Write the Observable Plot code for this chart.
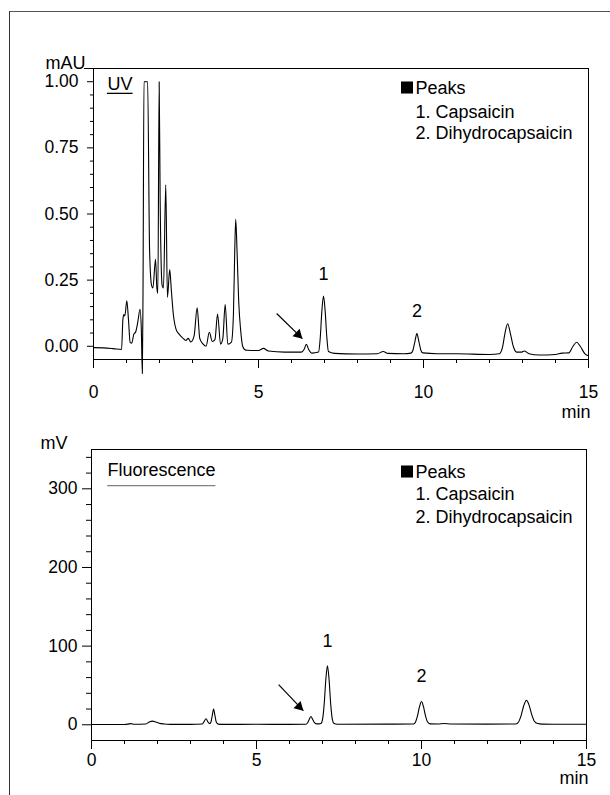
<!DOCTYPE html>
<html>
<head>
<meta charset="utf-8">
<script src="https://cdn.jsdelivr.net/npm/d3@7"></script>
<script src="https://cdn.jsdelivr.net/npm/@observablehq/plot@0.6"></script>
<style>
  html, body { margin: 0; padding: 0; background: #fff; }
  #wrap { position: relative; width: 610px; height: 795px; overflow: hidden; background: #fff; }
  #topPanel { position: absolute; left: 0; top: 0; }
  #botPanel { position: absolute; left: 0; top: 425px; }
  #border { position: absolute; left: 9px; top: 11px; width: 800px; height: 900px;
            border-left: 1px solid #333; border-top: 1px solid #555; pointer-events: none; }
</style>
</head>
<body>
<div id="wrap"><div id="topPanel"></div><div id="botPanel"></div><div id="border"></div></div>
<script>
// ---------- axis ticks ----------
const xMajor = [0, 5, 10, 15];
const xMinor = [1, 2, 3, 4, 6, 7, 8, 9, 11, 12, 13, 14];
const uvMajor = [0, 0.25, 0.5, 0.75, 1.0];
const uvMinor = [0.05, 0.1, 0.15, 0.2, 0.3, 0.35, 0.4, 0.45, 0.55, 0.6, 0.65, 0.7, 0.8, 0.85, 0.9, 0.95];
const uvTopTick = [1.05];
const flMajor = [0, 100, 200, 300];
const flMinor = [20, 40, 60, 80, 120, 140, 160, 180, 220, 240, 260, 280, 320, 340];

// ---------- texts ----------
const xUnit = "min";
const uvUnit = "mAU";
const flUnit = "mV";
const uvTitle = "UV";
const flTitle = "Fluorescence";
const legendTitle = "Peaks";
const legendItems = ["1. Capsaicin", "2. Dihydrocapsaicin"];

// ---------- UV trace (time, min / signal, mAU) ----------
const uvTime = [0.00, 0.30, 0.60, 0.85, 0.89, 0.92, 0.95, 1.01, 1.06, 1.11, 1.16, 1.22, 1.28, 1.34, 1.41, 1.45, 1.48,
  1.50, 1.53, 1.64, 1.70, 1.76, 1.80, 1.88, 1.92, 1.95, 1.99, 2.02, 2.08, 2.12, 2.19, 2.24, 2.31, 2.36, 2.42,
  2.50, 2.60, 2.70, 2.80, 2.87, 2.95, 3.05, 3.14, 3.22, 3.31, 3.41, 3.51, 3.60, 3.68, 3.76, 3.85, 3.92, 3.99,
  4.07, 4.18, 4.24, 4.28, 4.31, 4.35, 4.40, 4.46, 4.52, 4.58, 4.65, 5.00, 5.15, 5.30, 5.80, 6.30, 6.38, 6.45,
  6.52, 6.62, 6.82, 6.87, 6.92, 6.97, 7.02, 7.07, 7.12, 7.30, 8.00, 8.60, 8.78, 8.92, 9.40, 9.62, 9.68, 9.74,
  9.80, 9.86, 9.92, 9.98, 10.40, 11.00, 12.00, 12.30, 12.40, 12.47, 12.55, 12.63, 12.72, 12.82, 12.98, 13.05,
  13.20, 13.50, 14.00, 14.20, 14.40, 14.53, 14.64, 14.75, 14.90, 15.00];
const uvSignal = [-0.005, -0.006, -0.009, -0.012, 0.10, 0.12, 0.115, 0.172, 0.10, 0.015, 0.012, 0.045, 0.055, 0.09, 0.14, 0.06, -0.103,
  0.20, 1.00, 1.00, 0.36, 0.23, 0.22, 0.33, 0.22, 0.20, 1.00, 0.55, 0.23, 0.22, 0.61, 0.185, 0.29, 0.21, 0.12,
  0.065, 0.045, 0.032, 0.022, 0.03, 0.016, 0.04, 0.145, 0.03, 0.01, 0.0, 0.053, 0.018, 0.025, 0.122, 0.008, 0.03, 0.158,
  0.008, 0.016, 0.12, 0.36, 0.48, 0.36, 0.17, 0.06, 0.0, -0.012, -0.015, -0.016, -0.008, -0.018, -0.022, -0.022, -0.012, 0.007,
  -0.012, -0.026, -0.022, 0.03, 0.133, 0.19, 0.133, 0.035, -0.02, -0.027, -0.029, -0.028, -0.02, -0.027, -0.028, -0.026, -0.015, 0.018,
  0.048, 0.018, -0.015, -0.025, -0.028, -0.028, -0.031, -0.028, 0.0, 0.05, 0.085, 0.05, 0.0, -0.022, -0.022, -0.018,
  -0.028, -0.033, -0.031, -0.026, -0.025, 0.0, 0.015, 0.0, -0.03, -0.036];

// ---------- Fluorescence trace (time, min / signal, mV) ----------
const flTime = [0.00, 1.00, 1.10, 1.19, 1.30, 1.65, 1.75, 1.85, 1.95, 2.05, 2.20, 2.40, 3.00, 3.36, 3.41, 3.47, 3.53,
  3.58, 3.62, 3.66, 3.70, 3.74, 3.78, 3.84, 4.00, 5.00, 6.00, 6.50, 6.55, 6.60, 6.65, 6.70, 6.75, 6.82, 6.90,
  6.95, 7.00, 7.05, 7.10, 7.15, 7.20, 7.25, 7.30, 7.35, 7.45, 9.00, 9.76, 9.82, 9.88, 9.94, 10.00, 10.06, 10.12,
  10.18, 10.26, 10.50, 10.68, 10.90, 12.00, 12.86, 12.94, 13.02, 13.10, 13.18, 13.26, 13.34, 13.42, 13.52, 13.65,
  14.00, 15.00];
const flSignal = [0.4, 0.4, 0.8, 1.5, 0.6, 1.0, 3.5, 4.6, 3.5, 2.0, 1.0, 0.5, 0.5, 1.0, 4.0, 7.6, 3.5,
  1.5, 3.5, 12, 20, 12, 3.5, 0.8, 0.5, 0.6, 0.5, 0.6, 2.5, 7.0, 10.5, 7.0, 3.0, 1.2, 1.2,
  1.5, 6.6, 25.6, 57, 75, 57, 25.6, 6.6, 1.5, 0.6, 0.8, 1.0, 3.5, 11.5, 23, 29.5, 23, 11.5,
  3.8, 1.2, 1.0, 1.6, 1.0, 0.8, 1.0, 3.5, 12, 24.5, 31, 25, 13, 4.5, 1.5, 0.8,
  0.6, 0.6];

// ---------- peak annotations ----------
const peakNames = ["1", "2"];
const uvPeakTime = [6.97, 9.80];
const uvPeakHeight = [0.19, 0.048];
const flPeakTime = [7.15, 10.00];
const flPeakHeight = [75, 29.5];
// arrows pointing at the small pre-peak (start -> end, data units)
const uvArrow = [{x1: 5.55, y1: 0.124, x2: 6.33, y2: 0.029}];
const flArrow = [{x1: 5.67, y1: 51, x2: 6.42, y2: 18}];
// title underline extents (data units)
const uvUnderline = [{x1: 0.42, x2: 1.20, y: 0.956}];
const flUnderline = [{x1: 0.49, x2: 3.77, y: 304}];

const FONT = '"Liberation Sans", Arial, Helvetica, sans-serif';

function panel(o) {
  const data = o.time.map((t, i) => ({t, v: o.signal[i]}));
  const peaks = peakNames.map((name, i) => ({name, t: o.peakTime[i], v: o.peakHeight[i]}));
  return Plot.plot({
    width: 610,
    height: o.height,
    marginLeft: o.ml, marginRight: o.mr, marginTop: o.mt, marginBottom: o.mb,
    x: {domain: [0, 15]},
    y: {domain: o.yDomain},
    style: {fontFamily: FONT, fontSize: "17.5px", color: "black", background: "transparent", overflow: "visible"},
    marks: [
      Plot.axisX({ticks: xMinor, tickSize: 4, tickFormat: () => "", label: null, stroke: "black"}),
      Plot.axisX({ticks: xMajor, tickSize: 9, tickPadding: o.xPad, label: null, fontSize: 17.5, stroke: "black"}),
      Plot.axisY({ticks: o.yMinor, tickSize: o.minorLen, tickFormat: () => "", label: null, stroke: "black"}),
      Plot.axisY({ticks: o.yMajor, tickSize: o.majorLen, tickPadding: o.yPad, tickFormat: o.fmt, label: null, fontSize: 17.5, stroke: "black"}),
      ...(o.extraTicks ? [Plot.axisY({ticks: o.extraTicks, tickSize: 9, tickFormat: () => "", label: null, stroke: "black"})] : []),
      Plot.frame({stroke: "black", strokeWidth: 1}),
      Plot.line(data, {x: "t", y: "v", stroke: "black", strokeWidth: 1.1, curve: "monotone-x"}),
      // unit labels
      Plot.text([o.unit], {text: d => d, frameAnchor: "top-left", textAnchor: "end", lineAnchor: "bottom", dx: o.unitDx, dy: o.unitDy, fontSize: 18}),
      Plot.text([xUnit], {text: d => d, frameAnchor: "bottom-right", textAnchor: "end", lineAnchor: "middle", dx: 2, dy: o.minDy, fontSize: 18}),
      // panel title and underline
      Plot.text([o.title], {text: d => d, frameAnchor: "top-left", textAnchor: "start", lineAnchor: "middle", dx: o.titleDx, dy: o.titleDy, fontSize: 18}),
      Plot.ruleY(o.underline, {y: "y", x1: "x1", x2: "x2", stroke: o.underlineColor, strokeWidth: 1.3}),
      // legend: black square marker + title + items
      Plot.dot([legendTitle], {frameAnchor: "top-left", symbol: "square", r: 6.8, fill: "black", stroke: "none", dx: o.legDx + 6.5, dy: o.legDy[0] - 1}),
      Plot.text([legendTitle], {text: d => d, frameAnchor: "top-left", textAnchor: "start", lineAnchor: "middle", dx: o.legDx + 15, dy: o.legDy[0], fontSize: 18}),
      Plot.text([legendItems[0]], {text: d => d, frameAnchor: "top-left", textAnchor: "start", lineAnchor: "middle", dx: o.legDx + 15, dy: o.legDy[1], fontSize: 18}),
      Plot.text([legendItems[1]], {text: d => d, frameAnchor: "top-left", textAnchor: "start", lineAnchor: "middle", dx: o.legDx + 15, dy: o.legDy[2], fontSize: 18}),
      // peak labels
      Plot.text(peaks, {x: "t", y: "v", text: "name", lineAnchor: "middle", dy: (o.peakDy), fontSize: 18}),
      // arrow
      Plot.link(o.arrow, {x1: "x1", y1: "y1", x2: "x2", y2: "y2", stroke: "black", strokeWidth: 1.2}),
      Plot.dot(o.arrow, {x: "x2", y: "y2", symbol: "triangle", r: 3.8, fill: "black", stroke: "none", rotate: 134, dx: -4.2, dy: -4.0})
    ]
  });
}

const topChart = panel({
  time: uvTime, signal: uvSignal, peakTime: uvPeakTime, peakHeight: uvPeakHeight,
  height: 425, ml: 93, mr: 22, mt: 68, mb: 66,
  yDomain: [-0.05, 1.05], yMajor: uvMajor, yMinor: uvMinor, extraTicks: uvTopTick,
  majorLen: 6, minorLen: 3, yPad: 9, xPad: 17, fmt: d3.format(".2f"),
  unit: uvUnit, unitDx: -8, unitDy: 0, minDy: 53,
  title: uvTitle, titleDx: 14, titleDy: 16, underline: uvUnderline, underlineColor: "black",
  legDx: 307, legDy: [20, 44, 65], peakDy: -22, arrow: uvArrow
});
const botChart = panel({
  time: flTime, signal: flSignal, peakTime: flPeakTime, peakHeight: flPeakHeight,
  height: 370, ml: 91, mr: 24, mt: 24, mb: 55,
  yDomain: [-20, 350], yMajor: flMajor, yMinor: flMinor, extraTicks: null,
  majorLen: 9, minorLen: 5, yPad: 5, xPad: 4, fmt: d3.format("d"),
  unit: flUnit, unitDx: -24, unitDy: -1, minDy: 38,
  title: flTitle, titleDx: 16, titleDy: 21, underline: flUnderline, underlineColor: "#808080",
  legDx: 309, legDy: [23, 45, 68], peakDy: -25, arrow: flArrow
});
document.getElementById("topPanel").appendChild(topChart);
document.getElementById("botPanel").appendChild(botChart);
</script>
</body>
</html>
